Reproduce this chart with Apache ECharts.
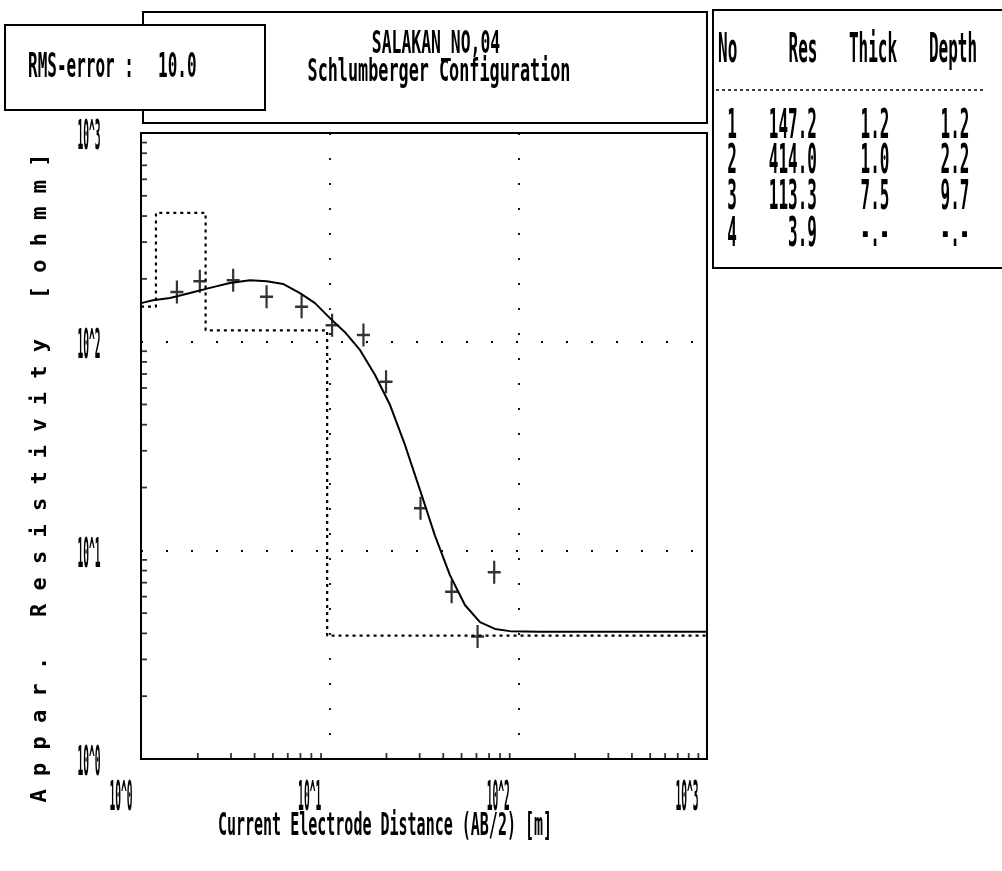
<!DOCTYPE html>
<html><head><meta charset="utf-8">
<script src="https://cdn.jsdelivr.net/npm/echarts@6/dist/echarts.min.js"></script>
<style>html,body{margin:0;padding:0;background:#fff}#c{width:1002px;height:871px}</style>
</head><body><div id="c"></div>
<script>
// ---- data ----
const obsX = [1.55, 2.05, 3.08, 4.63, 7.1, 10.3, 15.1, 19.9, 30.3, 44.3, 60.8, 74.5];
const obsY = [173, 195, 197, 164, 147, 120, 107.6, 64.3, 15.9, 6.33, 3.86, 7.85];
const curveX = [1.0, 1.158, 1.425, 1.818, 2.32, 2.96, 3.78, 4.65, 5.66, 6.96, 8.36, 10.0, 12.05, 14.5, 17.4, 20.9, 25.1, 30.1, 36.1, 43.4, 52.1, 62.6, 75.2, 90.3, 130, 1000];
const curveY = [153, 158, 162, 171, 181, 191, 197, 195, 189, 171, 153, 130, 111, 91, 69.2, 49.7, 31.9, 19.5, 11.8, 7.61, 5.47, 4.53, 4.20, 4.10, 4.07, 4.07];
const layerNo = ['1', '2', '3', '4'];
const layerRes = [147.2, 414.0, 113.3, 3.9];
const layerThick = [1.2, 1.0, 7.5];
const layerDepth = [1.2, 2.2, 9.7];
const tickVals = [1, 10, 100, 1000];
const tickLabels = ['10^0', '10^1', '10^2', '10^3'];
const minorTickVals = [2, 3, 4, 5, 6, 7, 8, 9, 20, 30, 40, 50, 60, 70, 80, 90, 200, 300, 400, 500, 600, 700, 800, 900];
const titleLines = ['SALAKAN_NO,04', 'Schlumberger Configuration'];
const rmsLabel = 'RMS-error :';
const rmsValue = '10.0';
const tableHead = ['No', 'Res', 'Thick', 'Depth'];
const xName = 'Current Electrode Distance (AB/2) [m]';
const yName = 'Appar. Resistivity [ohmm]';

// ---- build series data ----
const obsData = obsX.map((x, i) => [x, obsY[i]]);
const curveData = curveX.map((x, i) => [x, curveY[i]]);
const stepData = [[1, layerRes[0]]];
for (let i = 0; i < layerDepth.length; i++) {
  stepData.push([layerDepth[i], layerRes[i]], [layerDepth[i], layerRes[i + 1]]);
}
stepData.push([1000, layerRes[layerRes.length - 1]]);
const leftTicks = minorTickVals.map(v => [1, v]);
const bottomTicks = minorTickVals.map(v => [v, 1]);

const FONT = "'DejaVu Sans Mono', monospace";
const CROSS = 'path://M-1.7,-10 L1.7,-10 L1.7,-1.1 L10,-1.1 L10,1.1 L1.7,1.1 L1.7,10 L-1.7,10 L-1.7,1.1 L-10,1.1 L-10,-1.1 L-1.7,-1.1 Z';

const chart = echarts.init(document.getElementById('c'), null, {renderer: 'canvas'});
const option = {
  animation: false,
  backgroundColor: '#fff',
  grid: {left: 141, top: 133, width: 566, height: 626, show: true, borderColor: '#000', borderWidth: 2, containLabel: false},
  xAxis: {
    type: 'log', logBase: 10, min: 1, max: 1000,
    axisLine: {show: false}, axisTick: {show: false}, axisLabel: {show: false},
    splitLine: {show: true, lineStyle: {color: '#000', width: 1.8, type: [2, 23]}}
  },
  yAxis: {
    type: 'log', logBase: 10, min: 1, max: 1000,
    axisLine: {show: false}, axisTick: {show: false}, axisLabel: {show: false},
    splitLine: {show: true, lineStyle: {color: '#000', width: 1.8, type: [2, 23]}}
  },
  series: [
    {type: 'line', data: stepData, showSymbol: false, symbol: 'none', silent: true,
     lineStyle: {color: '#000', width: 2.2, type: [3, 4]}, z: 2},
    {type: 'line', data: curveData, showSymbol: false, symbol: 'none', smooth: false, silent: true,
     lineStyle: {color: '#000', width: 2}, z: 3},
    {type: 'scatter', data: obsData, symbol: CROSS, symbolSize: [13, 23], silent: true,
     itemStyle: {color: '#000'}, z: 4},
    {type: 'scatter', data: leftTicks, symbol: 'rect', symbolSize: [6, 1.8], symbolOffset: [3, 0], clip: false,
     silent: true, itemStyle: {color: '#000'}, z: 5},
    {type: 'scatter', data: bottomTicks, symbol: 'rect', symbolSize: [1.8, 6], symbolOffset: [0, -3], clip: false,
     silent: true, itemStyle: {color: '#000'}, z: 5}
  ]
};
chart.setOption(option);

function txt(x, y, s, align, sx, sy, fs) {
  return {
    type: 'text', x: x, y: y, scaleX: sx, scaleY: sy, z: 100, silent: true,
    style: {text: s, fontFamily: FONT, fontWeight: 'bold', fontSize: fs || 20, fill: '#000',
            align: align, verticalAlign: 'middle', textAlign: align, textVerticalAlign: 'middle'}
  };
}
function box(x, y, w, h, fill, z) {
  return {type: 'rect', shape: {x: x, y: y, width: w, height: h}, z: z, silent: true,
          style: {fill: fill, stroke: '#000', lineWidth: 2}};
}

const g = [];
// header box and RMS box
g.push(box(143, 12, 564, 111, '#fff', 50));
g.push(box(5, 25, 260, 85, '#fff', 60));
g.push(txt(28, 68, rmsLabel, 'left', 0.8, 1.7));
g.push(txt(158, 68, rmsValue, 'left', 0.8, 1.7));
g.push(txt(436, 45, titleLines[0], 'center', 0.82, 1.6));
g.push(txt(439, 73, titleLines[1], 'center', 0.84, 1.6));

// table
g.push(box(713, 10, 320, 258, '#fff', 50));
g.push({type: 'line', shape: {x1: 716, y1: 90, x2: 985, y2: 90}, z: 60, silent: true,
        style: {stroke: '#000', lineWidth: 1.5, lineDash: [3, 3]}});
const headX = [718, 803, 873, 953];
const headAlign = ['left', 'center', 'center', 'center'];
tableHead.forEach((h, i) => g.push(txt(headX[i], 52, h, headAlign[i], 0.8, 2.0)));
const rowY = [128, 163, 199, 236];
layerNo.forEach((n, i) => {
  g.push(txt(732, rowY[i], n, 'center', 0.8, 2.0));
  g.push(txt(817, rowY[i], layerRes[i].toFixed(1), 'right', 0.8, 2.0));
  g.push(txt(875, rowY[i], i < layerThick.length ? layerThick[i].toFixed(1) : '-.-', 'center', 0.8, 2.0));
  g.push(txt(955, rowY[i], i < layerDepth.length ? layerDepth[i].toFixed(1) : '-.-', 'center', 0.8, 2.0));
});

// tick labels positioned through the axes
tickVals.forEach((v, i) => {
  const px = chart.convertToPixel({xAxisIndex: 0}, v);
  g.push(txt(px - 20, 800, tickLabels[i], 'center', 0.48, 2.0));
  const py = chart.convertToPixel({yAxisIndex: 0}, v);
  g.push(txt(89, py + 6, tickLabels[i], 'center', 0.48, 2.0));
});

// axis names
g.push(txt(385, 827, xName, 'center', 0.75, 1.6));
const yNameSpaced = yName.split('').join(' ');
g.push({type: 'text', x: 40, y: 478, rotation: Math.PI / 2, z: 100, silent: true,
        style: {text: yNameSpaced, fontFamily: FONT, fontWeight: 'bold', fontSize: 22, fill: '#000',
                align: 'center', verticalAlign: 'middle', textAlign: 'center', textVerticalAlign: 'middle'}});

chart.setOption({graphic: g});
</script>
</body></html>
